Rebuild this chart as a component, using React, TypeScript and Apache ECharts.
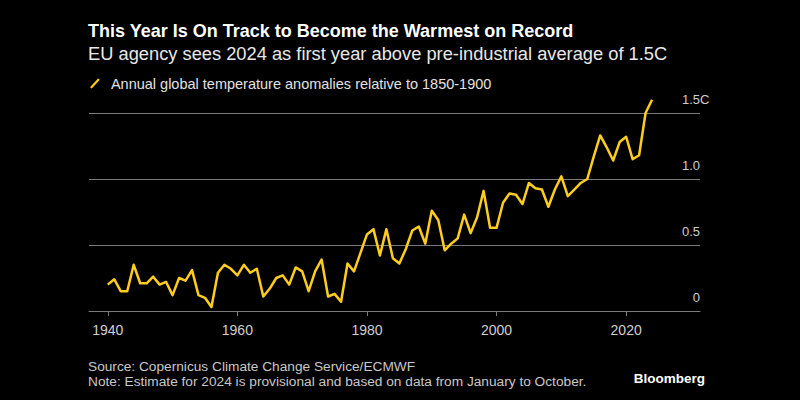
import React, { useEffect, useRef } from "react";
import * as echarts from "echarts";

const FONT = "'Liberation Sans', Arial, Helvetica, sans-serif";

const titleText = "This Year Is On Track to Become the Warmest on Record";
const subtitleText = "EU agency sees 2024 as first year above pre-industrial average of 1.5C";
const seriesName = "Annual global temperature anomalies relative to 1850-1900";
const sourceText = "Source: Copernicus Climate Change Service/ECMWF";
const noteText = "Note: Estimate for 2024 is provisional and based on data from January to October.";
const brandText = "Bloomberg";

const startYear = 1940;
// Annual anomalies (°C vs 1850-1900), 1940 … 2024
const anomalies1940s = [0.20, 0.24, 0.15, 0.15, 0.35, 0.21, 0.21, 0.26, 0.20, 0.22];
const anomalies1950s = [0.12, 0.25, 0.23, 0.31, 0.12, 0.10, 0.03, 0.29, 0.35, 0.32];
const anomalies1960s = [0.27, 0.35, 0.29, 0.32, 0.11, 0.17, 0.25, 0.27, 0.20, 0.33];
const anomalies1970s = [0.30, 0.15, 0.30, 0.39, 0.11, 0.13, 0.07, 0.36, 0.30, 0.44];
const anomalies1980s = [0.58, 0.62, 0.42, 0.62, 0.40, 0.36, 0.47, 0.61, 0.64, 0.51];
const anomalies1990s = [0.76, 0.69, 0.46, 0.51, 0.55, 0.73, 0.59, 0.71, 0.91, 0.63];
const anomalies2000s = [0.63, 0.82, 0.89, 0.88, 0.81, 0.97, 0.93, 0.92, 0.79, 0.92];
const anomalies2010s = [1.02, 0.87, 0.92, 0.97, 1.00, 1.17, 1.33, 1.24, 1.14, 1.28];
const anomalies2020s = [1.32, 1.15, 1.18, 1.50, 1.60];

const anomalies = [
  ...anomalies1940s,
  ...anomalies1950s,
  ...anomalies1960s,
  ...anomalies1970s,
  ...anomalies1980s,
  ...anomalies1990s,
  ...anomalies2000s,
  ...anomalies2010s,
  ...anomalies2020s,
];

const xTickYears = [1940, 1960, 1980, 2000, 2020];
const yTickLabels: Record<string, string> = { "0": "0", "0.5": "0.5", "1": "1.0", "1.5": "1.5" };
const yUnit = "C";

const LINE_COLOR = "#FFCD1E";
const GRID_COLOR = "#7a7a7a";
const LABEL_COLOR = "#cfcfcf";

export default function App() {
  const ref = useRef<HTMLDivElement>(null);

  useEffect(() => {
    document.body.style.margin = "0";
    document.body.style.background = "#000";
    const chart = echarts.init(ref.current!, null, { renderer: "svg" });
    const data = anomalies.map((v, i) => [startYear + i, v]);

    chart.setOption({
      animation: false,
      backgroundColor: "#000",
      textStyle: { fontFamily: FONT },
      title: [
        {
          text: titleText,
          left: 88,
          top: 22,
          padding: 0,
          textStyle: { color: "#ffffff", fontSize: 18, fontWeight: "bold", fontFamily: FONT, lineHeight: 18 },
        },
        {
          text: subtitleText,
          left: 88,
          top: 44,
          padding: 0,
          textStyle: { color: "#e8e8e8", fontSize: 18.3, fontWeight: "normal", fontFamily: FONT, lineHeight: 18 },
        },
        {
          text: sourceText,
          left: 88,
          top: 359,
          padding: 0,
          textStyle: { color: "#c8c8c8", fontSize: 13.7, fontWeight: "normal", fontFamily: FONT, lineHeight: 14 },
        },
        {
          text: noteText,
          left: 88,
          top: 374,
          padding: 0,
          textStyle: { color: "#c8c8c8", fontSize: 13.7, fontWeight: "normal", fontFamily: FONT, lineHeight: 14 },
        },
        {
          text: brandText,
          right: 95,
          top: 371,
          padding: 0,
          textStyle: { color: "#ffffff", fontSize: 13.5, fontWeight: "bold", fontFamily: FONT, lineHeight: 14 },
        },
      ],
      legend: {
        left: 90,
        top: 76,
        padding: 0,
        itemWidth: 10,
        itemHeight: 10,
        selectedMode: false,
        icon: "path://M0,8.8 L8.2,0 L10,1.4 L1.8,10.2 Z",
        textStyle: { color: "#e2e2e2", fontSize: 14.5, fontFamily: FONT, padding: [0, 0, 0, 6] },
        data: [{ name: seriesName }],
      },
      grid: { left: 89, right: 100, top: 113, bottom: 89, containLabel: false },
      xAxis: {
        type: "value",
        min: 1937.1,
        max: 2031.4,
        axisLine: { show: true, onZero: false, lineStyle: { color: GRID_COLOR, width: 1 } },
        axisTick: { show: true, customValues: xTickYears, length: 5, lineStyle: { color: GRID_COLOR, width: 1 } },
        axisLabel: {
          customValues: xTickYears,
          color: LABEL_COLOR,
          fontSize: 14,
          fontFamily: FONT,
          margin: 12,
          formatter: (v: number) => String(v),
        },
        splitLine: { show: false },
      },
      yAxis: {
        type: "value",
        position: "right",
        min: 0,
        max: 1.5,
        interval: 0.5,
        axisLine: { show: false },
        axisTick: { show: false },
        splitLine: { show: true, lineStyle: { color: GRID_COLOR, width: 1 } },
        axisLabel: {
          inside: true,
          margin: 22,
          align: "left",
          verticalAlign: "bottom",
          padding: [0, 0, 7, 0],
          color: LABEL_COLOR,
          fontSize: 13,
          fontFamily: FONT,
          formatter: (v: number) => {
            const key = String(v);
            const label = yTickLabels[key] ?? key;
            return "{n|" + label + "}" + (v === 1.5 ? "{c|" + yUnit + "}" : "");
          },
          rich: {
            n: { width: 22, align: "right", color: LABEL_COLOR, fontSize: 13, fontFamily: FONT },
            c: { align: "right", color: LABEL_COLOR, fontSize: 13, fontFamily: FONT },
          },
        },
      },
      series: [
        {
          name: seriesName,
          type: "line",
          data,
          symbol: "none",
          showSymbol: false,
          clip: false,
          lineStyle: { color: LINE_COLOR, width: 2.5, join: "round" },
          itemStyle: { color: LINE_COLOR },
        },
      ],
    });

    return () => chart.dispose();
  }, []);

  return (
    <div
      ref={ref}
      style={{ position: "fixed", left: 0, top: 0, width: 800, height: 400, background: "#000" }}
    />
  );
}
